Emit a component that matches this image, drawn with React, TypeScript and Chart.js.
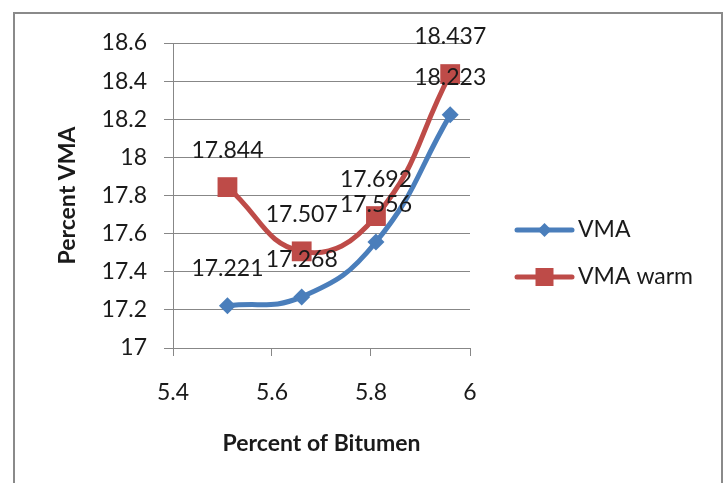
import React, { useEffect, useRef } from "react";
import { Chart, registerables } from "chart.js";

Chart.register(...registerables);

const bitumen: number[] = [5.51, 5.66, 5.81, 5.96];
const vma: number[] = [17.221, 17.268, 17.556, 18.223];
const vmaWarm: number[] = [17.844, 17.507, 17.692, 18.437];
const seriesNames: string[] = ["VMA", "VMA warm"];
const xTicks: number[] = [5.4, 5.6, 5.8, 6];
const yTicks: number[] = [17, 17.2, 17.4, 17.6, 17.8, 18, 18.2, 18.4, 18.6];

const BLUE = "#4A7EBB";
const RED = "#BE4B48";
const FONT = "Lato, 'Open Sans', sans-serif";

const dataLabelPlugin = {
  id: "dataLabels",
  afterDatasetsDraw(chart: any) {
    const ctx = chart.ctx;
    ctx.save();
    ctx.font = `23px ${FONT}`;
    ctx.fillStyle = "#1a1a1a";
    ctx.textAlign = "center";
    ctx.textBaseline = "middle";
    chart.data.datasets.forEach((ds: any, i: number) => {
      const meta = chart.getDatasetMeta(i);
      meta.data.forEach((el: any, j: number) => {
        const v = ds.data[j].y as number;
        ctx.fillText(v.toFixed(3), el.x, el.y - 37);
      });
    });
    ctx.restore();
  },
};

const legendPlugin = {
  id: "sideLegend",
  afterDraw(chart: any) {
    const ctx = chart.ctx;
    ctx.save();
    const x0 = 517;
    const x1 = 572;
    const rows = [230, 277];
    chart.data.datasets.forEach((ds: any, i: number) => {
      const y = rows[i];
      ctx.strokeStyle = ds.borderColor;
      ctx.lineWidth = 5;
      ctx.lineCap = "round";
      ctx.beginPath();
      ctx.moveTo(x0, y);
      ctx.lineTo(x1, y);
      ctx.stroke();
      ctx.fillStyle = ds.backgroundColor;
      ctx.beginPath();
      const cx = (x0 + x1) / 2;
      if (ds.pointStyle === "rectRot") {
        const r = 7;
        ctx.moveTo(cx - r, y);
        ctx.lineTo(cx, y - r);
        ctx.lineTo(cx + r, y);
        ctx.lineTo(cx, y + r);
        ctx.closePath();
      } else {
        const s = 9;
        ctx.rect(cx - s, y - s, 2 * s, 2 * s);
      }
      ctx.fill();
      ctx.fillStyle = "#1a1a1a";
      ctx.font = `23px ${FONT}`;
      ctx.textAlign = "left";
      ctx.textBaseline = "middle";
      ctx.fillText(ds.label, 578, y);
    });
    ctx.restore();
  },
};

export default function App() {
  const ref = useRef<HTMLCanvasElement | null>(null);
  useEffect(() => {
    if (!ref.current) return;
    const chart = new Chart(ref.current, {
      type: "line",
      data: {
        datasets: [
          {
            label: seriesNames[0],
            data: bitumen.map((x, i) => ({ x, y: vma[i] })),
            borderColor: BLUE,
            backgroundColor: BLUE,
            borderWidth: 5,
            pointStyle: "rectRot",
            pointRadius: 8.5,
            pointHoverRadius: 8.5,
            pointBorderWidth: 0,
            tension: 0.45,
          },
          {
            label: seriesNames[1],
            data: bitumen.map((x, i) => ({ x, y: vmaWarm[i] })),
            borderColor: RED,
            backgroundColor: RED,
            borderWidth: 5,
            pointStyle: "rect",
            pointRadius: 14,
            pointHoverRadius: 14,
            pointBorderWidth: 0,
            tension: 0.45,
          },
        ],
      },
      options: {
        responsive: false,
        animation: false,
        devicePixelRatio: 1,
        layout: { padding: { left: 0, top: 43, right: 254, bottom: 0 } },
        plugins: {
          legend: { display: false },
          tooltip: { enabled: false },
        },
        scales: {
          x: {
            type: "linear",
            min: xTicks[0],
            max: xTicks[xTicks.length - 1],
            afterBuildTicks: (s: any) => {
              s.ticks = xTicks.map((v) => ({ value: v }));
            },
            afterFit: (s: any) => {
              s.height = 135;
            },
            grid: {
              drawOnChartArea: false,
              drawTicks: true,
              tickLength: 8,
              color: "#878787",
            },
            border: { display: true, color: "#878787", width: 1 },
            ticks: {
              padding: 23,
              color: "#1a1a1a",
              font: { family: FONT, size: 23 },
              callback: (v: any) => String(Number(Number(v).toFixed(1))),
            },
            title: {
              display: true,
              text: "Percent of Bitumen",
              color: "#1a1a1a",
              font: { family: FONT, size: 23, weight: "bold" },
              padding: { top: 0, bottom: 26 },
            },
          },
          y: {
            type: "linear",
            min: yTicks[0],
            max: yTicks[yTicks.length - 1],
            afterBuildTicks: (s: any) => {
              s.ticks = yTicks.map((v) => ({ value: v }));
            },
            afterFit: (s: any) => {
              s.width = 173;
            },
            grid: {
              drawOnChartArea: true,
              drawTicks: true,
              tickLength: 9,
              color: "#878787",
            },
            border: { display: true, color: "#878787", width: 1 },
            ticks: {
              padding: 17,
              color: "#1a1a1a",
              font: { family: FONT, size: 23 },
              callback: (v: any) => String(Number(Number(v).toFixed(1))),
            },
            title: {
              display: true,
              text: "Percent VMA",
              color: "#1a1a1a",
              font: { family: FONT, size: 23, weight: "bold" },
              padding: { top: 54, bottom: 0 },
            },
          },
        },
      },
      plugins: [dataLabelPlugin, legendPlugin],
    });
    return () => chart.destroy();
  }, []);

  return (
    <div style={{ position: "absolute", left: 0, top: 0, width: 724, height: 483, overflow: "hidden", background: "#fff" }}>
      <div
        style={{
          position: "absolute",
          left: 13,
          top: 12,
          width: 710,
          height: 520,
          border: "2px solid #8a8a8a",
          boxSizing: "border-box",
        }}
      />
      <canvas ref={ref} width={724} height={483} style={{ position: "absolute", left: 0, top: 0 }} />
    </div>
  );
}
